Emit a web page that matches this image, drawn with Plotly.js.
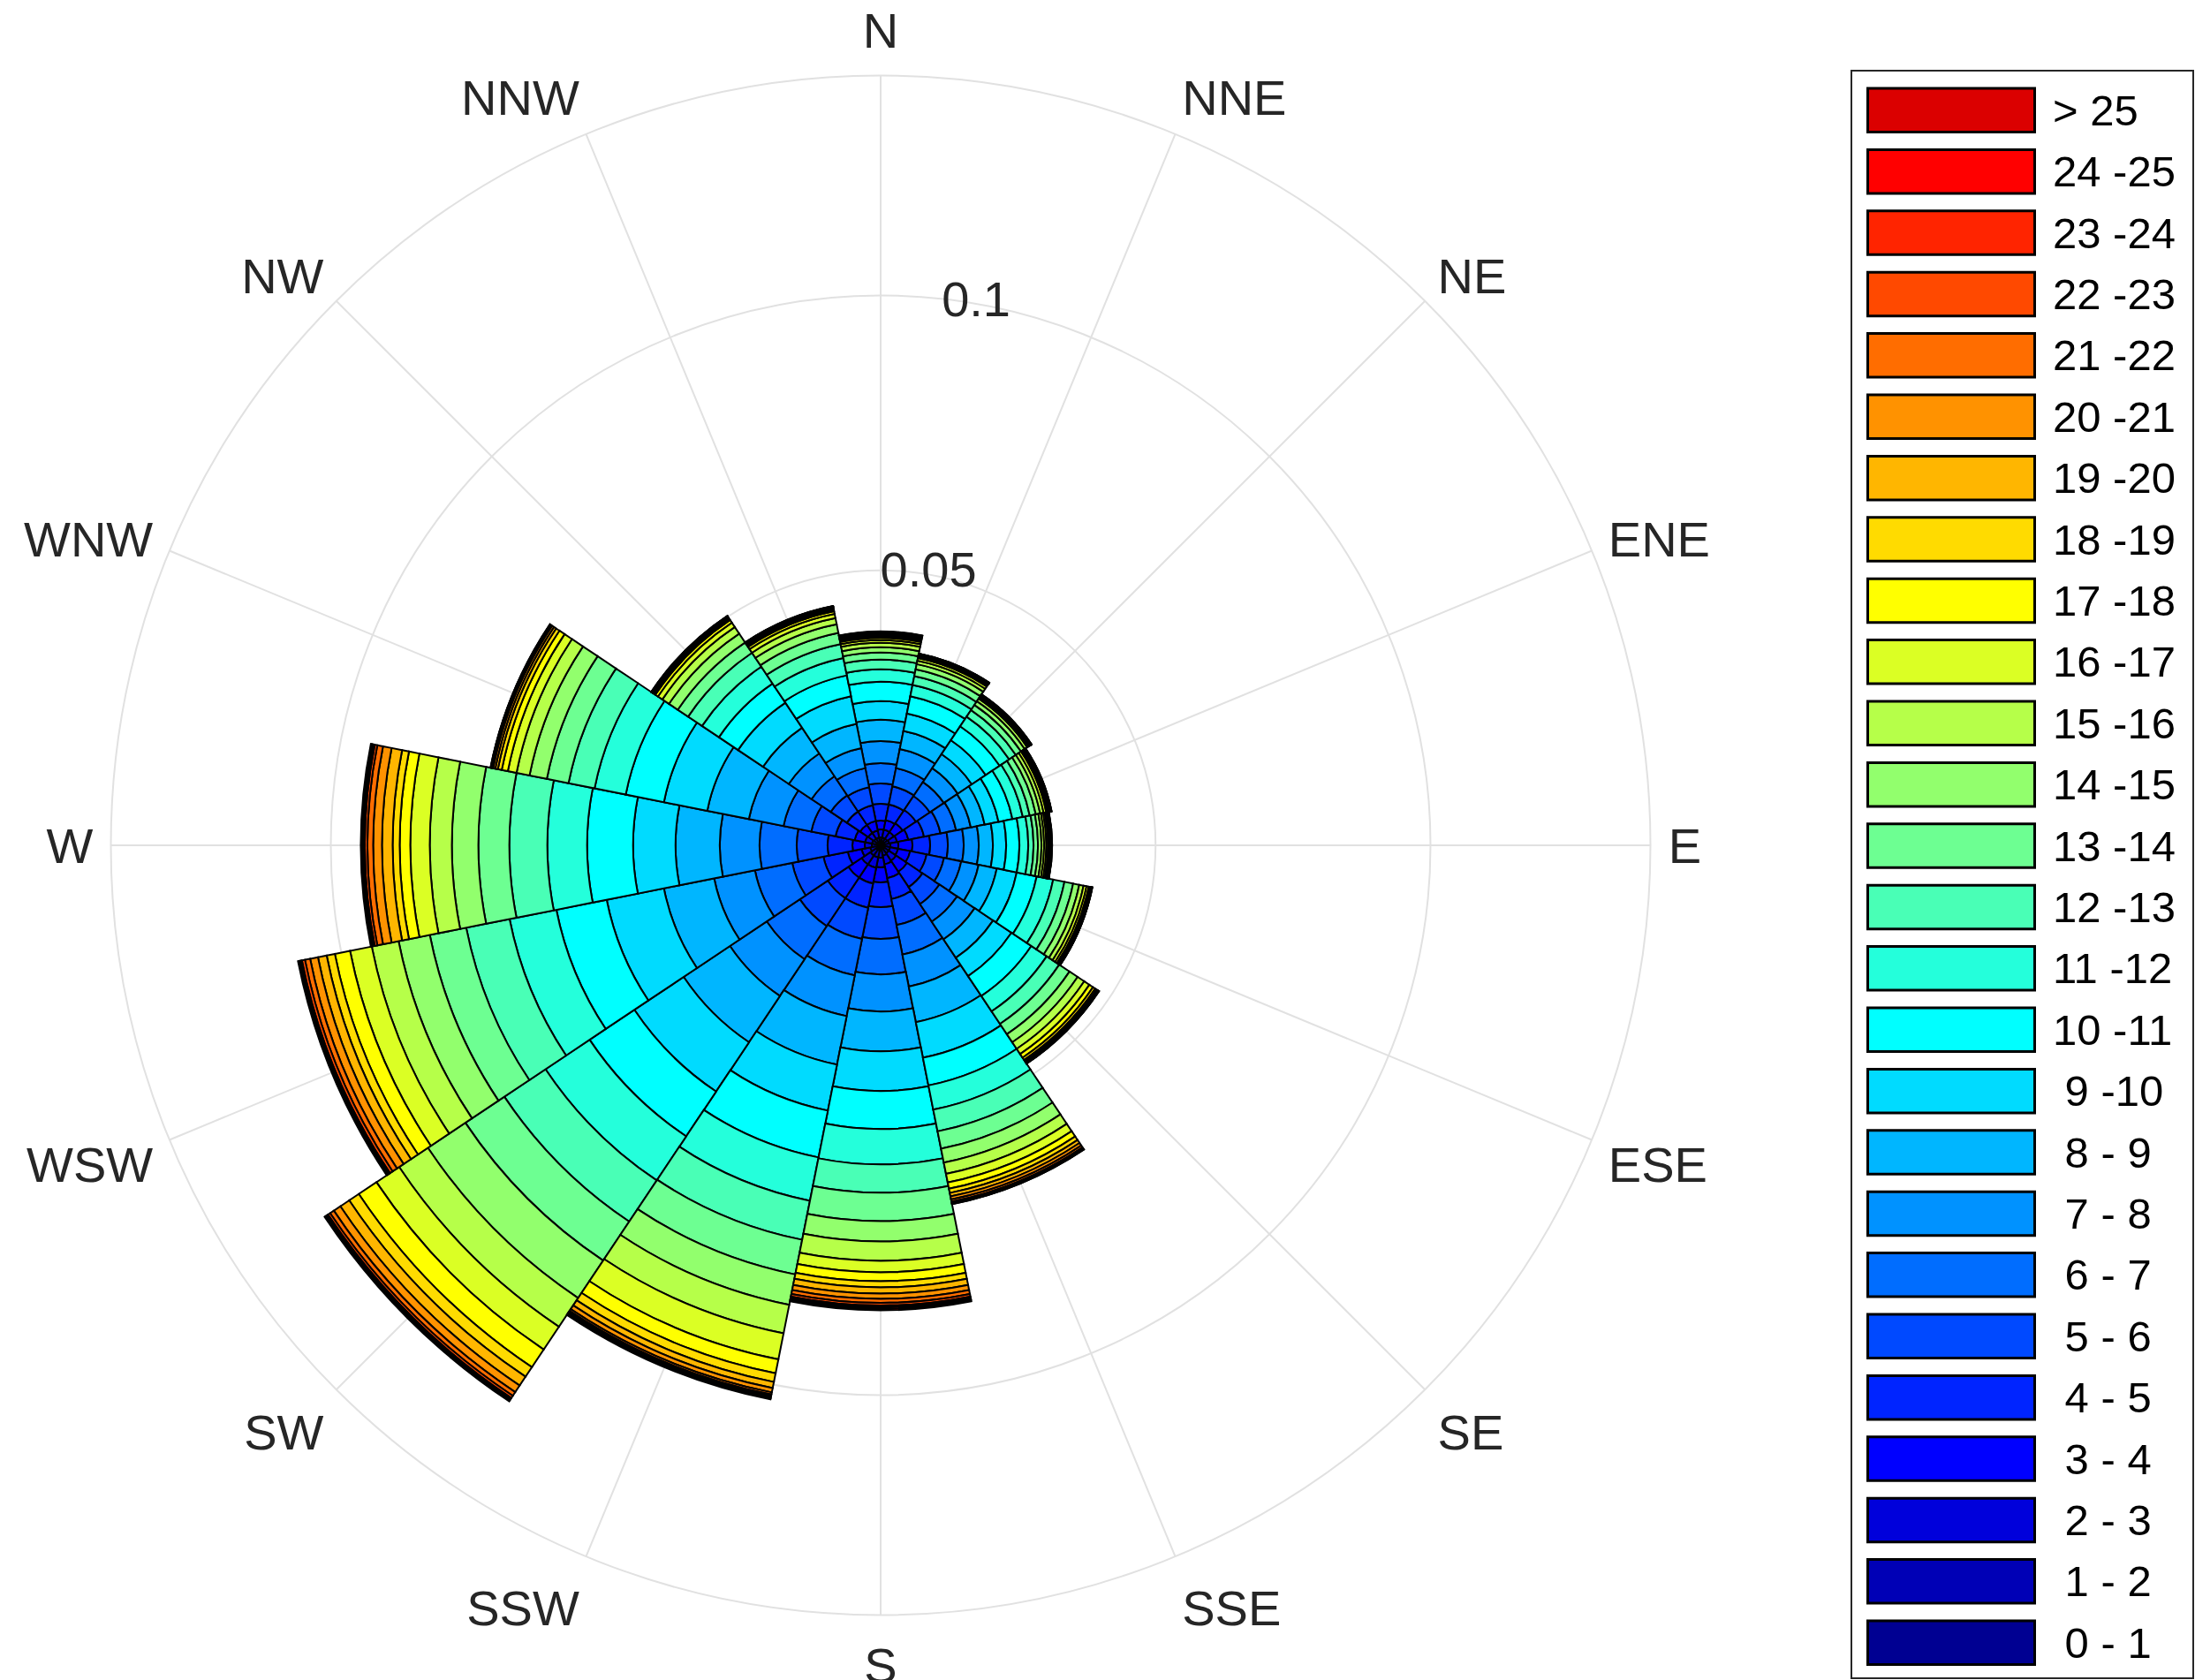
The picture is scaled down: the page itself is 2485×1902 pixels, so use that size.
<!DOCTYPE html>
<html>
<head>
<meta charset="utf-8">
<script src="https://cdn.plot.ly/plotly-3.0.1.min.js"></script>
<style>
html,body{margin:0;padding:0;background:#ffffff;}
#chart{width:2485px;height:1902px;}
</style>
</head>
<body>
<div id="chart"></div>
<script>
// ---- categories ----
const directions = ['N','NNE','NE','ENE','E','ESE','SE','SSE','S','SSW','SW','WSW','W','WNW','NW','NNW'];
const directionDegrees = [0,22.5,45,67.5,90,112.5,135,157.5,180,202.5,225,247.5,270,292.5,315,337.5];
const speedBins = [' 0 - 1',' 1 - 2',' 2 - 3',' 3 - 4',' 4 - 5',' 5 - 6',' 6 - 7',' 7 - 8',' 8 - 9',' 9 -10',
  '10 -11','11 -12','12 -13','13 -14','14 -15','15 -16','16 -17','17 -18','18 -19','19 -20',
  '20 -21','21 -22','22 -23','23 -24','24 -25','> 25'];
const binColors = ['#000092','#0000B6','#0000DB','#0000FF','#0024FF','#0049FF','#006DFF','#0092FF','#00B6FF','#00DBFF',
  '#00FFFF','#24FFDB','#49FFB6','#6DFF92','#92FF6D','#B6FF49','#DBFF24','#FFFF00','#FFDB00','#FFB600',
  '#FF9200','#FF6D00','#FF4900','#FF2400','#FF0000','#DB0000'];

// ---- cumulative frequency (per mille) at the top of each speed bin, per direction ----
const cumN   = [0.64,1.45,2.89,4.50,7.56,11.25,14.95,18.97,22.83,26.21,29.74,31.99,33.76,35.05,36.01,36.82,37.30,37.70,38.02,38.26,38.46,38.62,38.75,38.83,38.87,38.91];
const cumNNE = [0.64,1.45,2.89,4.66,7.56,10.93,14.31,17.85,21.22,24.44,27.65,29.74,31.35,32.64,33.60,34.24,34.73,35.05,35.26,35.37,35.43,35.48,35.51,35.53,35.55,35.56];
const cumNE  = [0.64,1.45,2.89,4.82,7.72,10.77,13.83,16.88,19.94,22.99,26.04,28.13,29.58,30.71,31.51,32.07,32.40,32.64,32.80,32.88,32.93,32.96,32.97,32.99,33.01,33.02];
const cumENE = [0.64,1.61,3.05,5.14,8.04,11.09,13.99,16.72,19.29,21.86,24.44,26.37,27.65,28.78,29.58,30.22,30.71,31.03,31.27,31.43,31.54,31.61,31.64,31.67,31.69,31.70];
const cumE   = [0.80,1.77,3.22,5.79,9.00,12.22,15.11,17.85,20.42,22.83,25.24,26.85,27.81,28.62,29.26,29.74,30.14,30.47,30.71,30.87,31.00,31.08,31.13,31.16,31.17,31.19];
const cumESE = [0.80,1.77,3.22,5.47,8.52,11.74,14.95,18.17,21.54,25.24,28.94,31.99,34.08,35.69,36.82,37.62,38.18,38.58,38.83,38.99,39.10,39.16,39.20,39.23,39.24,39.26];
const cumSE  = [0.80,1.77,3.38,5.79,9.16,12.86,16.72,20.58,24.60,28.62,32.96,36.33,39.07,41.32,43.09,44.53,45.66,46.46,46.94,47.27,47.51,47.64,47.70,47.73,47.75,47.77];
const cumSSE = [0.80,1.93,3.54,6.11,9.97,14.79,20.26,26.21,32.80,39.39,44.53,49.03,53.05,56.27,58.84,60.93,62.54,63.67,64.47,65.11,65.68,66.08,66.32,66.48,66.53,66.56];
const cumS   = [0.96,2.25,4.02,6.75,11.25,17.04,23.47,30.22,37.46,44.69,51.61,58.04,63.18,68.33,72.02,75.56,77.65,79.26,80.39,81.51,82.48,83.20,83.68,84.00,84.29,84.56];
const cumSSW = [0.96,2.25,4.18,7.07,11.58,17.36,24.12,31.67,40.67,49.20,57.88,65.92,73.15,79.58,85.21,90.51,95.34,97.91,99.52,100.64,101.45,101.85,102.17,102.41,102.60,102.73];
const cumSW  = [0.96,2.25,4.18,7.07,11.58,17.68,24.92,32.96,43.09,53.86,63.66,73.31,82.31,90.84,99.03,105.31,110.29,114.15,116.24,118.17,119.61,120.42,120.90,121.22,121.46,121.62];
const cumWSW = [0.80,1.93,3.54,6.11,10.61,16.40,23.31,30.87,40.19,50.80,60.13,68.81,76.85,83.60,89.39,94.37,98.39,101.21,102.73,104.34,105.79,106.75,107.32,107.64,107.88,108.04];
const cumW   = [0.64,1.61,2.89,5.14,9.65,15.27,22.03,29.26,37.30,45.02,53.38,60.61,67.52,73.15,77.97,81.99,85.53,87.46,88.74,90.68,92.28,93.33,93.81,94.13,94.37,94.53];
const cumWNW = [0.64,1.61,2.89,4.82,8.36,12.86,18.01,24.44,32.15,40.19,47.27,53.05,57.88,61.90,65.11,67.52,69.13,70.26,70.98,71.46,71.86,72.11,72.23,72.30,72.33,72.35];
const cumNW  = [0.64,1.45,2.73,4.50,7.40,10.93,15.11,20.10,25.72,31.19,35.37,39.07,42.12,44.37,46.30,47.75,48.71,49.28,49.60,49.84,50.00,50.08,50.13,50.16,50.18,50.19];
const cumNNW = [0.64,1.45,2.73,4.50,7.40,10.77,14.31,18.01,22.51,27.65,31.51,34.73,37.30,39.39,41.00,42.12,42.93,43.41,43.73,43.97,44.13,44.24,44.31,44.34,44.36,44.37];

// ---- radial tick labels ----
const radialTickValues = [0.05, 0.1];
const radialTickLabels = ['0.05', '0.1'];
const radialMax = 0.14;

const cumByDirection = [cumN,cumNNE,cumNE,cumENE,cumE,cumESE,cumSE,cumSSE,cumS,cumSSW,cumSW,cumWSW,cumW,cumWNW,cumNW,cumNNW];

const FONT = 'Liberation Sans, Arial, Helvetica, sans-serif';
const TXT = '#262626';
const GRID = '#e1e1e1';

const traces = speedBins.map((label, j) => ({
  type: 'barpolar',
  name: label,
  theta: directionDegrees,
  r: cumByDirection.map(c => (c[j] - (j > 0 ? c[j-1] : 0)) / 1000),
  width: directionDegrees.map(() => 22.5),
  marker: {color: binColors[j], line: {color: '#000000', width: 2}},
  showlegend: false,
  hoverinfo: 'skip'
}));

traces.push({
  type: 'scatterpolar',
  mode: 'text',
  r: radialTickValues,
  theta: radialTickValues.map(() => 10),
  text: radialTickLabels,
  textposition: 'middle center',
  textfont: {family: FONT, size: 56, color: TXT},
  showlegend: false,
  hoverinfo: 'skip',
  cliponaxis: false
});

// ---- page geometry ----
const W = 2485, H = 1902;
const cx = 997, cy = 957, R = 871.5;

// ---- legend drawn as shapes + annotations ----
const shapes = [];
const annotations = [];
const box = {x0: 2096, y0: 80, x1: 2483, y1: 1900};
shapes.push({type:'rect', xref:'paper', yref:'paper',
  x0: box.x0/W, x1: box.x1/W, y0: 1 - box.y1/H, y1: 1 - box.y0/H,
  line:{color:'#262626', width:2}, fillcolor:'#ffffff', layer:'below'});
const swX0 = 2113, swX1 = 2305, swTop0 = 98.5, swPitch = 69.4, swH = 52.5, txtX = 2322;
for (let k = 0; k < speedBins.length; k++) {
  const j = speedBins.length - 1 - k;
  const top = swTop0 + k * swPitch;
  shapes.push({type:'rect', xref:'paper', yref:'paper',
    x0: (swX0+1.5)/W, x1: (swX1-1.5)/W, y0: 1 - (top+swH-1.5)/H, y1: 1 - (top+1.5)/H,
    line:{color:'#000000', width:3}, fillcolor: binColors[j]});
  annotations.push({xref:'paper', yref:'paper', x: txtX/W, y: 1 - (top + swH/2)/H,
    xanchor:'left', yanchor:'middle', showarrow:false,
    text: speedBins[j].replace(/^ /, '\u00A0'),
    font:{family: FONT, size: 49, color:'#000000'}});
}

const layout = {
  width: W, height: H,
  margin: {l:0, r:0, t:0, b:0, pad:0},
  paper_bgcolor: '#ffffff',
  showlegend: false,
  font: {family: FONT, color: TXT},
  polar: {
    domain: {x: [(cx-R)/W, (cx+R)/W], y: [(H-cy-R)/H, (H-cy+R)/H]},
    bgcolor: '#ffffff',
    barmode: 'stack',
    radialaxis: {
      range: [0, radialMax],
      tickmode: 'array',
      tickvals: radialTickValues,
      showticklabels: false,
      ticks: '',
      showline: false,
      gridcolor: GRID,
      gridwidth: 2,
      angle: 80
    },
    angularaxis: {
      rotation: 90,
      direction: 'clockwise',
      tickmode: 'array',
      tickvals: directionDegrees,
      ticktext: directions,
      tickfont: {family: FONT, size: 56, color: TXT},
      ticks: 'outside',
      ticklen: 8,
      tickcolor: 'rgba(0,0,0,0)',
      showline: true,
      linecolor: GRID,
      linewidth: 2,
      showgrid: true,
      gridcolor: GRID,
      gridwidth: 2
    }
  },
  shapes: shapes,
  annotations: annotations
};

Plotly.newPlot('chart', traces, layout, {displayModeBar: false, staticPlot: true});
</script>
</body>
</html>
